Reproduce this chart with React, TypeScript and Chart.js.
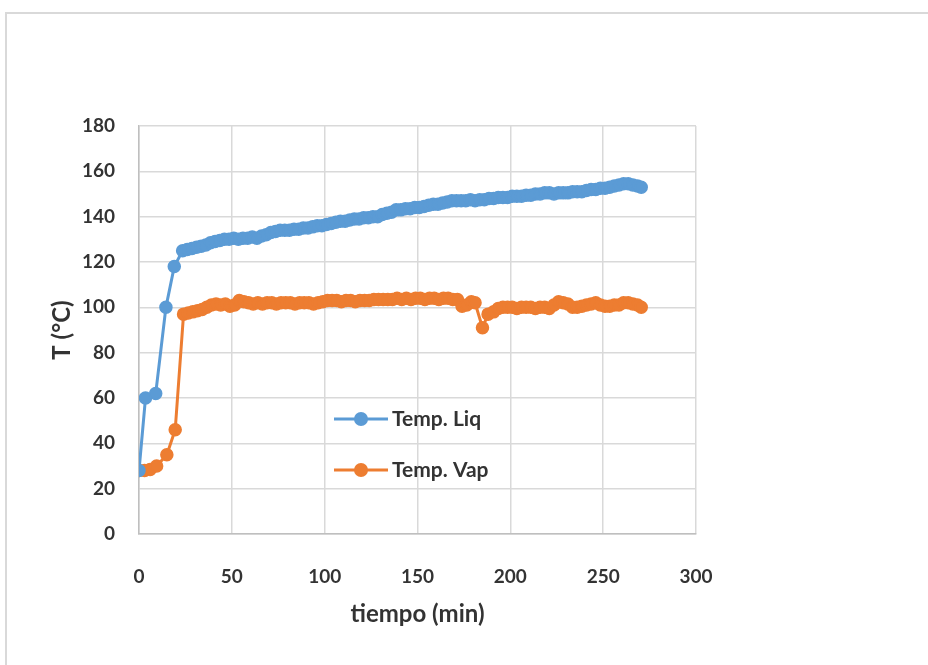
import React, { useEffect, useRef } from "react";
import { Chart, registerables } from "chart.js";

Chart.register(...registerables);

const liqTime = [
  0, 3.5, 9, 14.5, 19, 23.5, 26, 28.5, 31, 33.5, 36, 38.5, 41, 43.5, 46, 48.5, 51, 53.5, 56, 58.5,
  61, 63.5, 66, 68.5, 71, 73.5, 76, 78.5, 81, 83.5, 86, 88.5, 91, 93.5, 96, 98.5, 101, 103.5, 106, 108.5,
  111, 113.5, 116, 118.5, 121, 123.5, 126, 128.5, 131, 133.5, 136, 138.5, 141, 143.5, 146, 148.5, 151, 153.5, 156, 158.5,
  161, 163.5, 166, 168.5, 171, 173.5, 176, 178.5, 181, 183.5, 186, 188.5, 191, 193.5, 196, 198.5, 201, 203.5, 206, 208.5,
  211, 213.5, 216, 218.5, 221, 223.5, 226, 228.5, 231, 233.5, 236, 238.5, 241, 243.5, 246, 248.5, 251, 253.5, 256, 258.5,
  261, 263.5, 266, 268.5, 270.5,
];
const liqTemp = [
  28, 60, 62, 100, 118, 125, 125.5, 126, 126.5, 127, 127.5, 128.5, 129, 129.5, 130, 130, 130.5, 130, 130.5, 130.5,
  131, 130.5, 131.5, 132, 133, 133.5, 134, 134, 134, 134.5, 134.5, 135, 135, 135.5, 136, 136, 136.5, 137, 137.5, 138,
  138, 138.5, 139, 139, 139.5, 139.5, 140, 140, 141, 141.5, 142, 143, 143, 143.5, 143.5, 144, 144, 144.5, 145, 145.5,
  145.5, 146, 146.5, 147, 147, 147, 147, 147.5, 147, 147.5, 147.5, 148, 148, 148.5, 148.5, 148.5, 149, 149, 149, 149.5,
  149.5, 150, 150, 150.5, 150.5, 150, 150.5, 150.5, 150.5, 151, 151, 151, 151.5, 152, 152, 152.5, 152.5, 153, 153.5, 154,
  154.5, 154.5, 154, 153.5, 153,
];

const vapTime = [
  0, 3, 6, 9.5, 15, 19.5, 24, 26.5, 29, 31.5, 34, 36.5, 39, 41.5, 44, 46.5, 49, 51.5, 54, 56.5,
  59, 61.5, 64, 66.5, 69, 71.5, 74, 76.5, 79, 81.5, 84, 86.5, 89, 91.5, 94, 96.5, 99, 101.5, 104, 106.5,
  109, 111.5, 114, 116.5, 119, 121.5, 124, 126.5, 129, 131.5, 134, 136.5, 139, 141.5, 144, 146.5, 149, 151.5, 154, 156.5,
  159, 161.5, 164, 166.5, 169, 171.5, 174, 176.5, 179, 181, 185, 188, 191, 193.5, 196, 198.5, 201, 203.5, 206, 208.5,
  211, 213.5, 216, 218.5, 221, 223.5, 226, 228.5, 231, 233.5, 236, 238.5, 241, 243.5, 246, 248.5, 251, 253.5, 256, 258.5,
  261, 263.5, 266, 268.5, 270.5,
];
const vapTemp = [
  28, 28, 28.5, 30, 35, 46, 97, 97.5, 98, 98.5, 99, 100, 101, 101.5, 101, 101.5, 100.5, 101, 103, 102.5,
  102, 101.5, 102, 101.5, 102, 102, 101.5, 102, 102, 102, 101.5, 102, 102, 102, 101.5, 102, 102.5, 103, 103, 103,
  102.5, 103, 103, 102.5, 103, 103, 103, 103.5, 103.5, 103.5, 103.5, 103.5, 104, 103.5, 104, 103.5, 104, 104, 103.5, 104,
  104, 103.5, 104, 104, 103.5, 103.5, 100.5, 101, 102.5, 102, 91, 97, 98, 99.5, 100, 100, 100, 99.5, 100, 100,
  100, 99.5, 100, 100, 99.5, 101, 102.5, 102, 101.5, 100, 100, 100.5, 101, 101.5, 102, 101, 100.5, 100.5, 101, 101,
  102, 102, 101.5, 101, 100,
];

const seriesNames = ["Temp. Liq", "Temp. Vap"];
const seriesColors = ["#5B9BD5", "#ED7D31"];
const xTitle = "tiempo (min)";
const yTitle = "T (°C)";

const FONT = "Lato, 'Open Sans', sans-serif";

const legendPlugin = {
  id: "inlineLegend",
  afterDatasetsDraw(chart: any) {
    const ctx = chart.ctx;
    const rows = [419, 470];
    ctx.save();
    chart.data.datasets.forEach((ds: any, i: number) => {
      const y = rows[i];
      ctx.strokeStyle = ds.borderColor;
      ctx.lineWidth = 3;
      ctx.beginPath();
      ctx.moveTo(334, y);
      ctx.lineTo(388, y);
      ctx.stroke();
      ctx.fillStyle = ds.backgroundColor;
      ctx.beginPath();
      ctx.arc(361, y, 7, 0, Math.PI * 2);
      ctx.fill();
      ctx.fillStyle = "#333333";
      ctx.font = `bold 21px ${FONT}`;
      ctx.textBaseline = "middle";
      ctx.textAlign = "left";
      ctx.fillText(ds.label, 392, y);
    });
    ctx.restore();
  },
};

export default function App() {
  const ref = useRef<HTMLCanvasElement>(null);
  useEffect(() => {
    if (!ref.current) return;
    const mk = (t: number[], v: number[]) => t.map((x, i) => ({ x, y: v[i] }));
    const chart = new Chart(ref.current, {
      type: "line",
      data: {
        datasets: [
          {
            label: seriesNames[0],
            data: mk(liqTime, liqTemp),
            borderColor: seriesColors[0],
            backgroundColor: seriesColors[0],
            borderWidth: 3,
            pointRadius: 6,
            pointBorderWidth: 1.5,
            tension: 0,
          },
          {
            label: seriesNames[1],
            data: mk(vapTime, vapTemp),
            borderColor: seriesColors[1],
            backgroundColor: seriesColors[1],
            borderWidth: 3,
            pointRadius: 6,
            pointBorderWidth: 1.5,
            tension: 0,
          },
        ],
      },
      options: {
        animation: false,
        responsive: false,
        layout: { padding: { left: 48, top: 126, right: 232, bottom: 36 } },
        plugins: { legend: { display: false }, tooltip: { enabled: false } },
        scales: {
          x: {
            type: "linear",
            min: 0,
            max: 300,
            ticks: {
              stepSize: 50,
              padding: 31,
              color: "#333333",
              font: { family: FONT, size: 19, weight: "bold" },
            },
            grid: { color: "#d9d9d9", lineWidth: 1.5, drawTicks: false },
            border: { color: "#bfbfbf", width: 1.5 },
            title: {
              display: true,
              text: xTitle,
              color: "#333333",
              padding: 0,
              font: { family: FONT, size: 24, weight: "bold" },
            },
            afterFit: (s: any) => {
              s.height = 665 - 534 - 36;
            },
          },
          y: {
            min: 0,
            max: 180,
            ticks: {
              stepSize: 20,
              padding: 24,
              color: "#333333",
              font: { family: FONT, size: 19, weight: "bold" },
            },
            grid: { color: "#d9d9d9", lineWidth: 1.5, drawTicks: false },
            border: { color: "#bfbfbf", width: 1.5 },
            title: {
              display: true,
              text: yTitle,
              color: "#333333",
              padding: 0,
              font: { family: FONT, size: 24, weight: "bold" },
            },
            afterFit: (s: any) => {
              s.width = 139 - 48;
            },
          },
        },
      },
      plugins: [legendPlugin],
    });
    return () => chart.destroy();
  }, []);

  return (
    <div style={{ position: "absolute", left: 0, top: 0, width: 928, height: 665, overflow: "hidden", background: "#fff" }}>
      <div
        style={{
          position: "absolute",
          left: 5,
          top: 12,
          width: 940,
          height: 700,
          borderTop: "2px solid #d9d9d9",
          borderLeft: "2px solid #d9d9d9",
        }}
      />
      <canvas ref={ref} width={928} height={665} style={{ position: "absolute", left: 0, top: 0 }} />
    </div>
  );
}
